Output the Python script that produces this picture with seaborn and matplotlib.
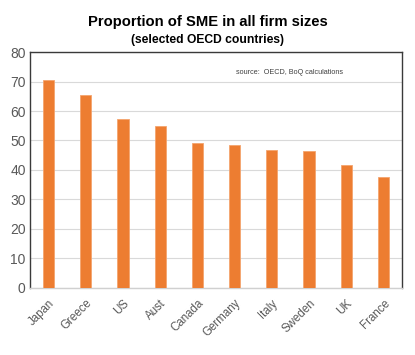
import matplotlib
matplotlib.use('Agg')
import matplotlib.pyplot as plt
import seaborn as sns
import pandas as pd

# data
countries = ['Japan', 'Greece', 'US', 'Aust', 'Canada', 'Germany', 'Italy', 'Sweden', 'UK', 'France']
sme_share = [70.5, 65.3, 57.4, 55.0, 49.1, 48.4, 46.7, 46.4, 41.8, 37.7]
y_ticks = [0, 10, 20, 30, 40, 50, 60, 70, 80]

df = pd.DataFrame({'country': countries, 'share': sme_share})

sns.set_theme(style='white')
plt.rcParams['font.family'] = ['Liberation Sans', 'DejaVu Sans']

fig = plt.figure(figsize=(4.15, 3.55), dpi=100)
ax = fig.add_axes([0.072, 0.19, 0.897, 0.663])

sns.barplot(data=df, x='country', y='share', color='#ED7D31', saturation=1,
            width=0.3, edgecolor='#F4A46E', linewidth=0.6, ax=ax, zorder=3)

ax.set_ylim(0, 80)
ax.set_yticks(y_ticks)
ax.set_xlim(-0.5, len(countries) - 0.5)
ax.yaxis.grid(True, color='#D9D9D9', linewidth=0.8, zorder=0)
ax.set_axisbelow(True)
ax.set_xlabel('')
ax.set_ylabel('')

for side in ['left', 'right', 'top']:
    ax.spines[side].set_color('#3A3A3A')
    ax.spines[side].set_linewidth(1.0)
ax.spines['bottom'].set_color('#D0D0D0')
ax.spines['bottom'].set_linewidth(1.0)

ax.tick_params(axis='y', labelsize=10, colors='#595959', length=0, pad=3)
ax.tick_params(axis='x', labelsize=8.3, colors='#595959', length=0, pad=7)
plt.setp(ax.get_xticklabels(), rotation=45, ha='right', rotation_mode='anchor')

ax.text(0.553, 0.912, 'source:  OECD, BoQ calculations', transform=ax.transAxes,
        fontsize=5.2, color='#404040', va='center', ha='left')

fig.text(0.5, 0.938, 'Proportion of SME in all firm sizes', ha='center', va='center',
         fontsize=10.6, fontweight='bold', color='black')
fig.text(0.5, 0.888, '(selected OECD countries)', ha='center', va='center',
         fontsize=8.7, fontweight='bold', color='black')

fig.savefig('out.png', dpi=100)
